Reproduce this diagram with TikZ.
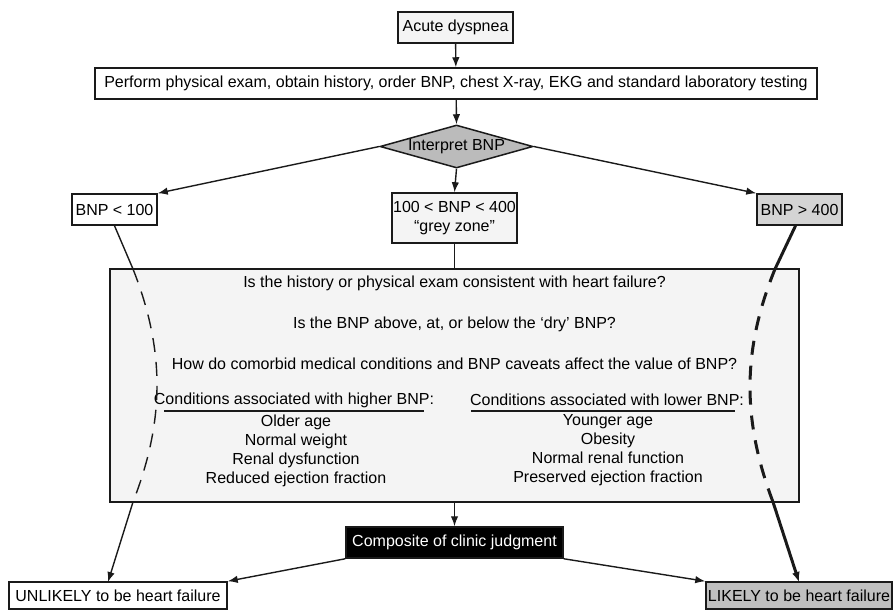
\documentclass[tikz,border=0pt]{standalone}
\usepackage{fontspec}
\setmainfont{Liberation Sans}
\usetikzlibrary{arrows.meta,shapes.geometric}
\definecolor{edge}{HTML}{1A1A1A}
\definecolor{lightfill}{HTML}{F4F4F4}
\definecolor{diamondfill}{HTML}{BBBBBB}
\definecolor{highfill}{HTML}{D4D4D4}
\definecolor{likelyfill}{HTML}{C0C0C0}
\begin{document}
\begin{tikzpicture}[x=1pt,y=-1pt,
  every node/.style={font=\fontsize{16}{19}\selectfont},
  box/.style={draw=edge, line width=1.5pt, inner sep=0pt, minimum height=31pt, align=center},
  txt/.style={inner sep=0pt, align=center},
  arr/.style={draw=edge, line width=1.4pt, -{Latex[length=10pt,width=7.5pt]}},
  plain/.style={draw=edge, line width=1.4pt},
  thin dash/.style={draw=edge, line width=1.4pt, dash pattern=on 14pt off 10pt},
  thick solid/.style={draw=edge, line width=3pt},
  thick arr/.style={draw=edge, line width=3pt, -{Latex[length=10pt,width=8pt]}},
  thick dash/.style={draw=edge, line width=3pt, dash pattern=on 14pt off 11pt}]
\useasboundingbox (0,0) rectangle (893,611);

% nodes
\node[box, fill=lightfill, minimum width=115pt] (acute) at (455.5,27.5) {Acute dyspnea};
\node[box, fill=white, minimum width=722pt] (perform) at (456,83.5) {Perform physical exam, obtain history, order BNP, chest X-ray, EKG and standard laboratory testing};
\node[diamond, draw=edge, line width=1.5pt, fill=diamondfill, aspect=3.5, inner sep=0pt, minimum width=153pt, minimum height=43pt] (interp) at (456.5,146.5) {Interpret BNP};
\node[box, fill=white, minimum width=85pt] (low) at (114.5,209.5) {BNP < 100};
\node[box, fill=highfill, minimum width=85pt] (high) at (799.5,209.5) {BNP > 400};
\node[box, fill=lightfill, minimum width=125pt, minimum height=50pt] (grey) at (454.5,218) {100 < BNP < 400\\“grey zone”};

\node[box, fill=lightfill, minimum width=689pt, minimum height=233pt] (big) at (454.5,385.5) {};
\node[txt] (q1) at (454.5,283) {Is the history or physical exam consistent with heart failure?};
\node[txt] (q2) at (454.5,324) {Is the BNP above, at, or below the ‘dry’ BNP?};
\node[txt] (q3) at (454.5,364) {How do comorbid medical conditions and BNP caveats affect the value of BNP?};
\node[txt] (hl) at (294,400) {Conditions associated with higher BNP:};
\node[txt] (hr) at (607,400) {Conditions associated with lower BNP:};
\node[txt] (ll) at (296,450.5) {Older age\\Normal weight\\Renal dysfunction\\Reduced ejection fraction};
\node[txt] (lr) at (608,450.5) {Younger age\\Obesity\\Normal renal function\\Preserved ejection fraction};
\draw[plain] (164,411) -- (424,411);
\draw[plain] (471,411) -- (735,411);

\node[box, fill=black, text=white, minimum width=217pt] (comp) at (454.5,542.5) {Composite of clinic judgment};
\node[box, fill=white, minimum width=218pt, minimum height=27pt] (unl) at (118,595.5) {UNLIKELY to be heart failure};
\node[box, fill=likelyfill, minimum width=186pt, minimum height=27pt] (lik) at (799,595.5) {LIKELY to be heart failure};

% coordinates for the curved paths
\coordinate (L1) at (133,269);
\coordinate (L2) at (133,502);
\coordinate (Lend) at (108,582);
\coordinate (R0) at ([xshift=-4pt]high.south);
\coordinate (R1) at (775,269);
\coordinate (R2) at (773,502);
\coordinate (Rend) at (799,582);

% connectors
\draw[arr] (acute) -- (perform);
\draw[arr] (perform) -- (interp.north);
\draw[arr] (interp.west) -- (low.north east);
\draw[arr] (interp.east) -- (high.north west);
\draw[arr] (interp.south) -- (grey.north);
\draw[plain] (grey.south) -- (big.north -| grey.south);
\draw[arr] (big.south -| comp.north) -- (comp.north);
\draw[arr] (comp.south west) -- (unl.north east);
\draw[arr] (comp.south east) -- (lik.north west);

% left path
\draw[plain] (low.south) -- (L1);
\draw[thin dash] (L1) .. controls (165,350) and (165,420) .. (L2);
\draw[arr] (L2) -- (Lend);

% right path
\draw[thick solid] (R0) -- (R1);
\draw[thick dash] (R1) .. controls (742,350) and (742,420) .. (R2);
\draw[thick arr] (R2) -- (Rend);
\end{tikzpicture}
\end{document}
